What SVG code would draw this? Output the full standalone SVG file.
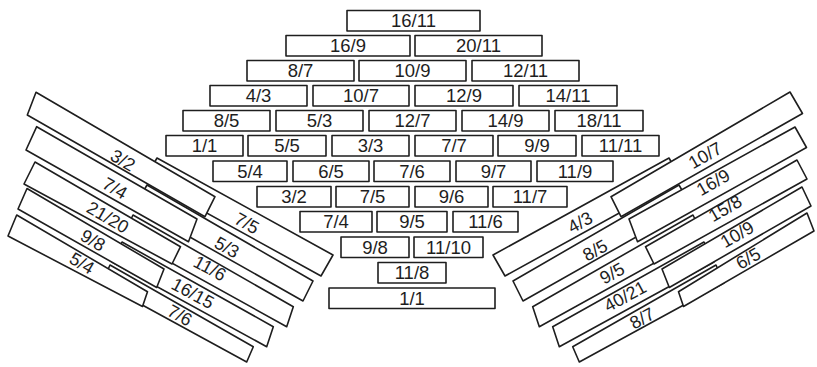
<svg xmlns="http://www.w3.org/2000/svg" width="817" height="367" viewBox="0 0 817 367">
<style>
.b{fill:#fff;stroke:#1e1e1e;stroke-width:1.6;stroke-linejoin:round}
.t{font-family:"Liberation Sans",Arial,sans-serif;font-size:18.5px;fill:#1e1e1e;text-anchor:middle}
.f{font-family:"Liberation Sans",Arial,sans-serif;font-size:18px;fill:#1e1e1e;text-anchor:middle}
</style>
<rect width="817" height="367" fill="#fff"/>
<g id="center">
<g id="r1-16-11"><rect class="b" x="347" y="10.5" width="133" height="20.5"/><text class="t" x="413.5" y="27">16/11</text></g>
<g id="r2-16-9"><rect class="b" x="286" y="35.5" width="124" height="20.5"/><text class="t" x="348" y="52">16/9</text></g>
<g id="r2-20-11"><rect class="b" x="415" y="35.5" width="127" height="20.5"/><text class="t" x="478.5" y="52">20/11</text></g>
<g id="r3-8-7"><rect class="b" x="247" y="60.5" width="107" height="20.5"/><text class="t" x="300.5" y="77">8/7</text></g>
<g id="r3-10-9"><rect class="b" x="359" y="60.5" width="107" height="20.5"/><text class="t" x="412.5" y="77">10/9</text></g>
<g id="r3-12-11"><rect class="b" x="472" y="60.5" width="107" height="20.5"/><text class="t" x="525.5" y="77">12/11</text></g>
<g id="r4-4-3"><rect class="b" x="210" y="85.5" width="97" height="20.5"/><text class="t" x="258.5" y="102">4/3</text></g>
<g id="r4-10-7"><rect class="b" x="313" y="85.5" width="96" height="20.5"/><text class="t" x="361" y="102">10/7</text></g>
<g id="r4-12-9"><rect class="b" x="415" y="85.5" width="98" height="20.5"/><text class="t" x="464" y="102">12/9</text></g>
<g id="r4-14-11"><rect class="b" x="519" y="85.5" width="98" height="20.5"/><text class="t" x="568" y="102">14/11</text></g>
<g id="r5-8-5"><rect class="b" x="183" y="110.5" width="87" height="20.5"/><text class="t" x="226.5" y="127">8/5</text></g>
<g id="r5-5-3"><rect class="b" x="276" y="110.5" width="87" height="20.5"/><text class="t" x="319.5" y="127">5/3</text></g>
<g id="r5-12-7"><rect class="b" x="369" y="110.5" width="87" height="20.5"/><text class="t" x="412.5" y="127">12/7</text></g>
<g id="r5-14-9"><rect class="b" x="462" y="110.5" width="87" height="20.5"/><text class="t" x="505.5" y="127">14/9</text></g>
<g id="r5-18-11"><rect class="b" x="555" y="110.5" width="88" height="20.5"/><text class="t" x="599" y="127">18/11</text></g>
<g id="r6-1-1"><rect class="b" x="166" y="135.5" width="77" height="20.5"/><text class="t" x="204.5" y="152">1/1</text></g>
<g id="r6-5-5"><rect class="b" x="248" y="135.5" width="78" height="20.5"/><text class="t" x="287" y="152">5/5</text></g>
<g id="r6-3-3"><rect class="b" x="332" y="135.5" width="77" height="20.5"/><text class="t" x="370.5" y="152">3/3</text></g>
<g id="r6-7-7"><rect class="b" x="415" y="135.5" width="78" height="20.5"/><text class="t" x="454" y="152">7/7</text></g>
<g id="r6-9-9"><rect class="b" x="498" y="135.5" width="78" height="20.5"/><text class="t" x="537" y="152">9/9</text></g>
<g id="r6-11-11"><rect class="b" x="582" y="135.5" width="77" height="20.5"/><text class="t" x="620.5" y="152">11/11</text></g>
<g id="r7-5-4"><rect class="b" x="213" y="161" width="74" height="20.5"/><text class="t" x="250" y="177.5">5/4</text></g>
<g id="r7-6-5"><rect class="b" x="293" y="161" width="76" height="20.5"/><text class="t" x="331" y="177.5">6/5</text></g>
<g id="r7-7-6"><rect class="b" x="374" y="161" width="76" height="20.5"/><text class="t" x="412" y="177.5">7/6</text></g>
<g id="r7-9-7"><rect class="b" x="456" y="161" width="75" height="20.5"/><text class="t" x="493.5" y="177.5">9/7</text></g>
<g id="r7-11-9"><rect class="b" x="537" y="161" width="76" height="20.5"/><text class="t" x="575" y="177.5">11/9</text></g>
<g id="r8-3-2"><rect class="b" x="257" y="186.5" width="74" height="20.5"/><text class="t" x="294" y="203">3/2</text></g>
<g id="r8-7-5"><rect class="b" x="336" y="186.5" width="73" height="20.5"/><text class="t" x="372.5" y="203">7/5</text></g>
<g id="r8-9-6"><rect class="b" x="415" y="186.5" width="73" height="20.5"/><text class="t" x="451.5" y="203">9/6</text></g>
<g id="r8-11-7"><rect class="b" x="493" y="186.5" width="74" height="20.5"/><text class="t" x="530" y="203">11/7</text></g>
<g id="r9-7-4"><rect class="b" x="300" y="211.5" width="72" height="20.5"/><text class="t" x="336" y="228">7/4</text></g>
<g id="r9-9-5"><rect class="b" x="377" y="211.5" width="70" height="20.5"/><text class="t" x="412" y="228">9/5</text></g>
<g id="r9-11-6"><rect class="b" x="453" y="211.5" width="65" height="20.5"/><text class="t" x="485.5" y="228">11/6</text></g>
<g id="r10-9-8"><rect class="b" x="341" y="237" width="68" height="20.5"/><text class="t" x="375" y="253.5">9/8</text></g>
<g id="r10-11-10"><rect class="b" x="414" y="237" width="69" height="20.5"/><text class="t" x="448.5" y="253.5">11/10</text></g>
<g id="r11-11-8"><rect class="b" x="378" y="262.5" width="68" height="20.5"/><text class="t" x="412" y="279">11/8</text></g>
<g id="r12-1-1"><rect class="b" x="329" y="288" width="166" height="20.5"/><text class="t" x="412" y="304.5">1/1</text></g>
</g>
<g id="left-fan">
<g id="l-7-5"><polygon class="b" points="157,158 333,255 321,276 145,179"/><text class="f" transform="translate(247,223) rotate(28.5)" y="6.5">7/5</text></g>
<g id="l-5-3"><polygon class="b" points="147,185 313,281 303,301 135,206"/><text class="f" transform="translate(227,247) rotate(28.5)" y="6.5">5/3</text></g>
<g id="l-11-6"><polygon class="b" points="133,215 293.3,306.7 286.7,326.7 123,236"/><text class="f" transform="translate(210,268) rotate(28.5)" y="6.5">11/6</text></g>
<g id="l-16-15"><polygon class="b" points="122,242 273.3,326.7 266.7,346.7 112,262"/><text class="f" transform="translate(193,293) rotate(28.5)" y="6.5">16/15</text></g>
<g id="l-7-6"><polygon class="b" points="110,265 253.3,346.7 246.7,362 102,283"/><text class="f" transform="translate(180,315) rotate(28.5)" y="6.5">7/6</text></g>
<g id="l-3-2"><polygon class="b" points="36,92.3 215,196.7 205,216.7 27.3,115"/><text class="f" transform="translate(123,160) rotate(30)" y="6.5">3/2</text></g>
<g id="l-7-4"><polygon class="b" points="36.7,126.7 197,219 188.5,241.7 26,150"/><text class="f" transform="translate(115,188) rotate(30)" y="6.5">7/4</text></g>
<g id="l-21-20"><polygon class="b" points="35,162 180.5,246.7 172,264 24,184"/><text class="f" transform="translate(108,217) rotate(30)" y="6.5">21/20</text></g>
<g id="l-9-8"><polygon class="b" points="27,188.5 164,269 156.7,287.5 18,209"/><text class="f" transform="translate(93,240) rotate(30)" y="6.5">9/8</text></g>
<g id="l-5-4"><polygon class="b" points="16.7,215 147.5,291.7 142.5,306.5 8,236"/><text class="f" transform="translate(82,263) rotate(30)" y="6.5">5/4</text></g>
</g>
<g id="right-fan">
<g id="r-4-3"><polygon class="b" points="669,158 493,255 505,276 681,179"/><text class="f" transform="translate(580,222) rotate(-28.5)" y="6.5">4/3</text></g>
<g id="r-8-5"><polygon class="b" points="679,185 513,281 523,301 691,206"/><text class="f" transform="translate(595,250) rotate(-28.5)" y="6.5">8/5</text></g>
<g id="r-9-5"><polygon class="b" points="693,215 532.7,306.7 539.3,326.7 703,236"/><text class="f" transform="translate(612,273) rotate(-28.5)" y="6.5">9/5</text></g>
<g id="r-40-21"><polygon class="b" points="704,242 552.7,326.7 559.3,346.7 714,262"/><text class="f" transform="translate(625,296) rotate(-28.5)" y="6.5">40/21</text></g>
<g id="r-8-7"><polygon class="b" points="716,265 572.7,346.7 579.3,362 724,283"/><text class="f" transform="translate(642,318) rotate(-28.5)" y="6.5">8/7</text></g>
<g id="r-10-7"><polygon class="b" points="790,92 611,196.7 621,216.7 802.5,113.5"/><text class="f" transform="translate(705,155) rotate(-30)" y="6.5">10/7</text></g>
<g id="r-16-9"><polygon class="b" points="795,127 629,219 637.5,241.7 806.5,147.5"/><text class="f" transform="translate(713,182) rotate(-30)" y="6.5">16/9</text></g>
<g id="r-15-8"><polygon class="b" points="797,160 645.5,246.7 654,264 807,179"/><text class="f" transform="translate(725,208) rotate(-30)" y="6.5">15/8</text></g>
<g id="r-10-9"><polygon class="b" points="802,187 662,269 669.3,287.5 811,206"/><text class="f" transform="translate(737,234) rotate(-30)" y="6.5">10/9</text></g>
<g id="r-6-5"><polygon class="b" points="807,213 678.5,291.7 683.5,306.5 814,231"/><text class="f" transform="translate(748,258) rotate(-30)" y="6.5">6/5</text></g>
</g>
</svg>
